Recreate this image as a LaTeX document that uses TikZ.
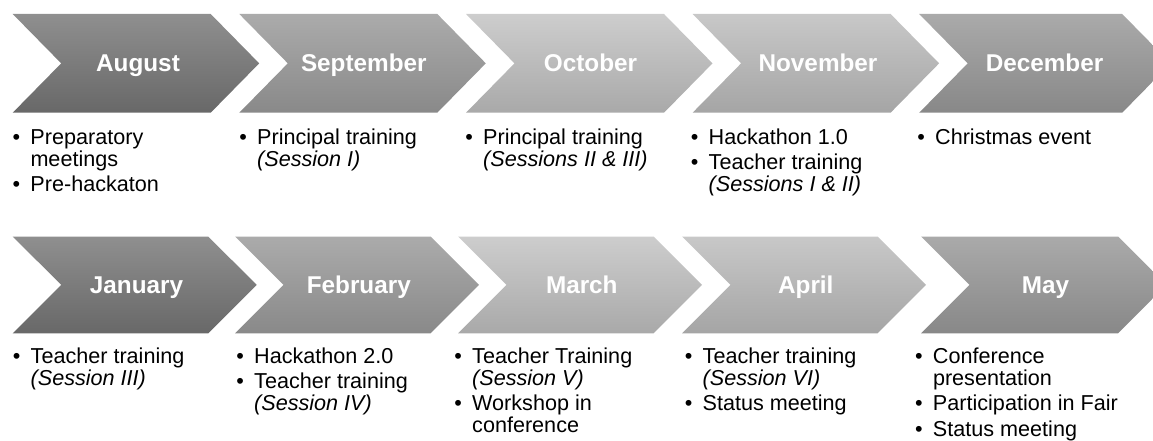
\documentclass[tikz,border=0pt]{standalone}
\usepackage{fontspec}
\setmainfont{Liberation Sans}
\definecolor{gAt}{HTML}{8F8F8F}\definecolor{gAb}{HTML}{686868}
\definecolor{gBt}{HTML}{ABABAB}\definecolor{gBb}{HTML}{898989}
\definecolor{gCt}{HTML}{CDCDCD}\definecolor{gCb}{HTML}{A9A9A9}
\definecolor{gDt}{HTML}{C8C8C8}\definecolor{gDb}{HTML}{A5A5A5}
\definecolor{gEt}{HTML}{AAAAAA}\definecolor{gEb}{HTML}{888888}
\newcommand\bul{\makebox[17.8pt][l]{\textbullet}}
\newcommand\cont{\hspace*{17.8pt}}
\newcommand\itemlist[1]{\parbox[t]{230pt}{\raggedright\lineskiplimit=-30pt\lineskip=0pt #1}}
% chevron: #1 left x, #2 top y, #3 height, #4 width of top edge, #5 shade style
\newcommand\chevron[5]{%
  \path[#5] (#1,#2) -- ++(#4,0) -- ++(48.5,#3/2) -- ++(-48.5,#3/2)
    -- ++(-#4,0) -- ++(48.5,-#3/2) -- cycle;}
\tikzset{
  shA/.style={top color=gAt,bottom color=gAb},
  shB/.style={top color=gBt,bottom color=gBb},
  shC/.style={top color=gCt,bottom color=gCb},
  shD/.style={top color=gDt,bottom color=gDb},
  shE/.style={top color=gEt,bottom color=gEb},
  mlabel/.style={anchor=base,inner sep=0pt,text=white,
    font=\fontsize{24.3}{28}\selectfont\bfseries},
  lst/.style={anchor=base west,inner sep=0pt,
    font=\fontsize{21.6}{21.8}\selectfont}
}
\begin{document}
\begin{tikzpicture}[x=1pt,y=-1pt]
\useasboundingbox (0,0) rectangle (1153,441);
\begin{scope}
\clip (0,0) rectangle (1153,441);
% first row of arrows
\chevron{12.7}{14}{98.7}{198}{shA}
\chevron{239.3}{14}{98.7}{198}{shB}
\chevron{466}{14}{98.7}{198}{shC}
\chevron{692.6}{14}{98.7}{198}{shD}
\chevron{919.2}{14}{98.7}{203}{shE}
% second row of arrows
\chevron{12.7}{236.5}{96.8}{195.5}{shA}
\chevron{235}{236.5}{96.8}{195.5}{shB}
\chevron{458}{236.5}{96.8}{195.5}{shC}
\chevron{682}{236.5}{96.8}{195.5}{shD}
\chevron{921}{236.5}{96.8}{197}{shE}
\end{scope}

% month names
\node[mlabel] (aug) at (138,71.8) {August};
\node[mlabel] (sep) at (363.8,71.8) {September};
\node[mlabel] (oct) at (590.5,71.8) {October};
\node[mlabel] (nov) at (818,71.8) {November};
\node[mlabel] (dec) at (1044.5,71.8) {December};
\node[mlabel] (jan) at (136.5,293.3) {January};
\node[mlabel] (feb) at (358.8,293.3) {February};
\node[mlabel] (mar) at (581.8,293.3) {March};
\node[mlabel] (apr) at (805.8,293.3) {April};
\node[mlabel] (may) at (1045.5,293.3) {May};

% activities, first row
\node[lst] (augl) at (12.5,144.3) {\itemlist{\bul Preparatory\\\cont meetings\\[3.8pt]\bul Pre-hackaton}};
\node[lst] (sepl) at (239.2,144.3) {\itemlist{\bul Principal training\\\cont\textit{(Session I)}}};
\node[lst] (octl) at (465.2,144.3) {\itemlist{\bul Principal training\\\cont\textit{(Sessions II \& III)}}};
\node[lst] (novl) at (690.7,144.3) {\itemlist{\bul Hackathon 1.0\\[3.8pt]\bul Teacher training\\\cont\textit{(Sessions I \& II)}}};
\node[lst] (decl) at (917.2,144.3) {\itemlist{\bul Christmas event}};

% activities, second row
\node[lst] (janl) at (12.7,363.3) {\itemlist{\bul Teacher training\\\cont\textit{(Session III)}}};
\node[lst] (febl) at (236.2,363.3) {\itemlist{\bul Hackathon 2.0\\[3.8pt]\bul Teacher training\\\cont\textit{(Session IV)}}};
\node[lst] (marl) at (454.2,363.3) {\itemlist{\bul Teacher Training\\\cont\textit{(Session V)}\\[3.8pt]\bul Workshop in\\\cont conference}};
\node[lst] (aprl) at (684.7,363.3) {\itemlist{\bul Teacher training\\\cont\textit{(Session VI)}\\[3.8pt]\bul Status meeting}};
\node[lst] (mayl) at (915,363.3) {\itemlist{\bul Conference\\\cont presentation\\[3.8pt]\bul Participation in Fair\\[3.8pt]\bul Status meeting}};
\end{tikzpicture}
\end{document}
